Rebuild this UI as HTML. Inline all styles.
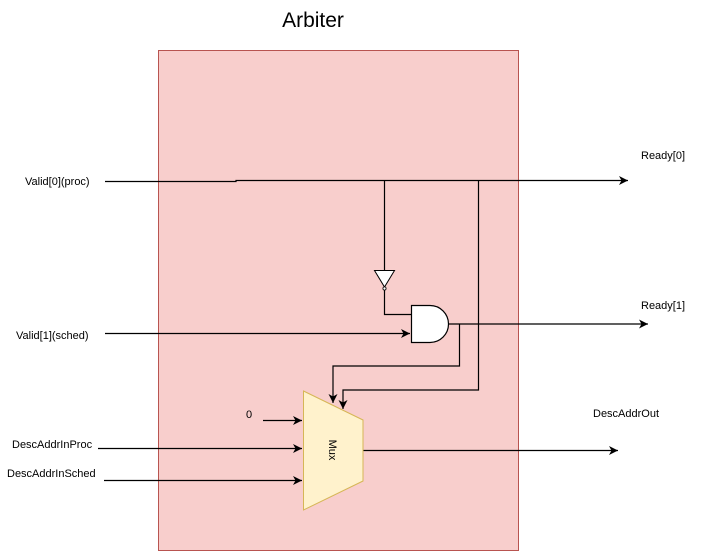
<!DOCTYPE html>
<html><head><style>
body{margin:0;background:#fff;}
svg{display:block;}
text{font-family:"Liberation Sans",sans-serif;font-size:11px;fill:#000;}
</style></head><body>
<svg width="701" height="551" viewBox="0 0 701 551" xmlns="http://www.w3.org/2000/svg">
<defs>
<marker id="a" markerWidth="12" markerHeight="12" refX="9" refY="4.5" orient="auto" markerUnits="userSpaceOnUse">
<path d="M0,0 L9,4.5 L0,9 L2.5,4.5 Z" fill="#000"/>
</marker>
</defs>
<rect x="158.5" y="50.5" width="360" height="500" fill="#f8cecc" stroke="#b85450"/>
<text x="313" y="27" style="font-size:21px" text-anchor="middle">Arbiter</text>
<g stroke="#000" stroke-width="1.2" fill="none">
<path d="M105,181.5 H236 V180.5 H628" marker-end="url(#a)"/>
<path d="M384.5,180.5 V270"/>
<path d="M478.5,180.5 V390 H343 V409" marker-end="url(#a)"/>
<path d="M384.5,290 V314.5 H411"/>
<path d="M105,333.5 H410" marker-end="url(#a)"/>
<path d="M448,324 H648" marker-end="url(#a)"/>
<path d="M459.5,324 V366 H333 V403" marker-end="url(#a)"/>
<path d="M263,420.5 H302" marker-end="url(#a)"/>
<path d="M98,448.5 H302" marker-end="url(#a)"/>
<path d="M104,480.5 H302" marker-end="url(#a)"/>
<path d="M363,450.5 H618" marker-end="url(#a)"/>
</g>
<path d="M374.5,270.5 H394.5 L384.5,287 Z" fill="#fff" stroke="#000"/>
<circle cx="384.5" cy="288.5" r="1.6" fill="#fff" stroke="#000" stroke-width="0.8"/>
<path d="M411.5,305.5 H430 A18.5,18.5 0 0 1 430,342.5 H411.5 Z" fill="#fff" stroke="#000" stroke-width="1.2"/>
<path d="M303.5,391 L363,420 V481 L303.5,510 Z" fill="#fff2cc" stroke="#d6b656"/>
<text x="333" y="450" text-anchor="middle" transform="rotate(90 333 450)" dy="4">Mux</text>
<text x="25" y="185">Valid[0](proc)</text>
<text x="16" y="339">Valid[1](sched)</text>
<text x="246" y="418">0</text>
<text x="12" y="448">DescAddrInProc</text>
<text x="7" y="477">DescAddrInSched</text>
<text x="641" y="159">Ready[0]</text>
<text x="641" y="309">Ready[1]</text>
<text x="593" y="417">DescAddrOut</text>
</svg>
</body></html>
